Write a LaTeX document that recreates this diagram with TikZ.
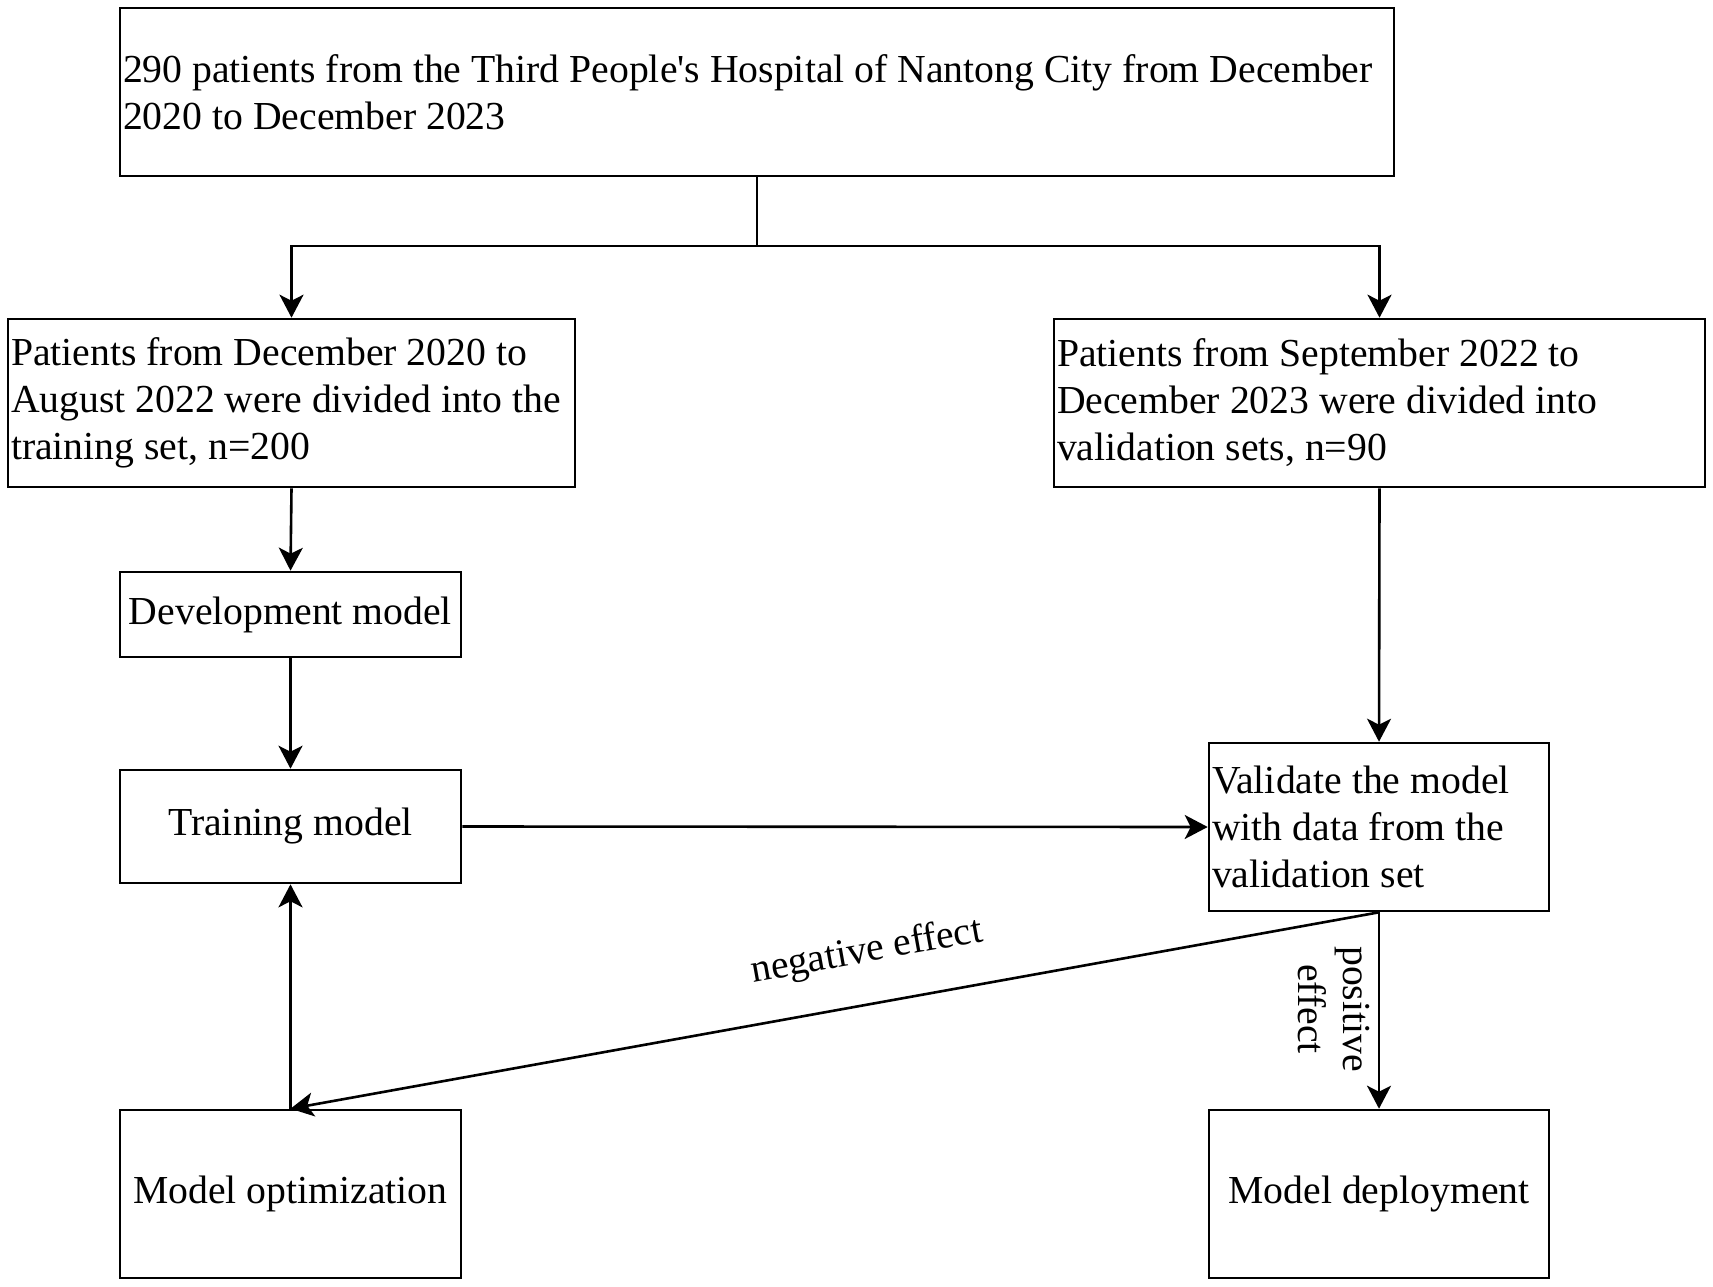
\documentclass[tikz,border=0pt]{standalone}
\usepackage{fontspec}
\setmainfont{Liberation Serif}
\usetikzlibrary{arrows.meta}
\begin{document}
\begin{tikzpicture}[x=1pt,y=-1pt,
  box/.style={draw,line width=2.6pt,inner xsep=3pt,inner ysep=0pt,
    font=\fontsize{39.7}{47}\selectfont},
  lbox/.style={box,align=flush left},
  cbox/.style={box,align=flush center},
  conn/.style={line width=2.6pt},
  arr/.style={conn,-{Stealth[length=23pt,width=24pt,inset=6pt]}},
  lab/.style={font=\fontsize{39.7}{45}\selectfont,inner sep=2pt}]
\useasboundingbox (0,0) rectangle (1713,1287);
\node[lbox,text width=1268pt,minimum height=168pt] (A) at (757,92)
  {290 patients from the Third People\textquotesingle s Hospital of Nantong City from December\\2020 to December 2023};
\node[lbox,text width=561pt,minimum height=168pt] (B) at (291.5,403)
  {Patients from December 2020 to\\August 2022 were divided into the\\training set, n=200};
\node[lbox,text width=645pt,minimum height=168pt] (C) at (1379.5,403)
  {Patients from September 2022 to\\December 2023 were divided into\\validation sets, n=90};
\node[cbox,text width=335pt,minimum height=85pt] (D) at (290.5,614.5) {Development model};
\node[cbox,text width=335pt,minimum height=113pt] (E) at (290.5,826.5) {Training model};
\node[lbox,text width=334pt,minimum height=168pt] (F) at (1379,827)
  {Validate the model\\with data from the\\validation set};
\node[cbox,text width=335pt,minimum height=168pt] (G) at (290.5,1194) {Model optimization};
\node[cbox,text width=334pt,minimum height=168pt] (H) at (1379,1194) {Model deployment};
\coordinate (J) at (757,246);
\draw[conn] (A.south) -- (J);
\draw[arr] (J) -| (B.north);
\draw[arr] (J) -| (C.north);
\draw[arr] (B.south) -- (D.north);
\draw[arr] (D.south) -- (E.north);
\draw[arr] (C.south) -- (F.north);
\draw[arr] (E.east) -- (F.west);
\draw[arr] (F.south) -- node[lab,sloped,above=30pt,pos=0.462] {negative effect} (G.north);
\draw[arr] (F.south) -- (H.north);
\draw[arr] (G.north) -- (E.south);
\node[lab,rotate=-90,align=center] (P) at (1334,1009) {positive\\effect};
\end{tikzpicture}
\end{document}
